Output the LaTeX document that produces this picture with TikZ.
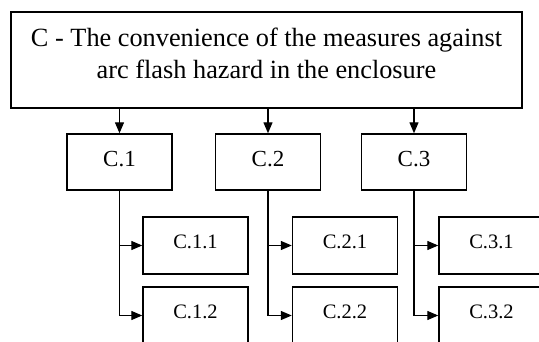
\documentclass[tikz,border=0pt]{standalone}
\usepackage{fontspec}
\setmainfont{Liberation Serif}
\usetikzlibrary{arrows.meta}
\begin{document}
\begin{tikzpicture}[x=1pt,y=-1pt,
  box/.style={draw, line width=1.4pt, inner sep=0pt},
  headbox/.style={box, minimum width=511pt, minimum height=96pt, align=center,
    font=\fontsize{26.3}{31.6}\selectfont, text depth=13pt},
  midbox/.style={box, minimum width=105pt, minimum height=56pt,
    font=\fontsize{23}{27}\selectfont, text height=16pt, text depth=6.4pt},
  subbox/.style={box, minimum width=105pt, minimum height=57pt,
    font=\fontsize{20.5}{24}\selectfont, text height=14pt, text depth=8.8pt},
  conn/.style={line width=1.2pt, -{Triangle[length=11pt,width=9pt]}}
]
\useasboundingbox (0,0) rectangle (539,342);
\clip (0,0) rectangle (539,342);

% top-level box
\node[headbox] (head) at (266.5,60)
  {C - The convenience of the measures against\\arc flash hazard in the enclosure};

% second level
\node[midbox] (c1) at (119.5,162) {C.1};
\node[midbox] (c2) at (268,162) {C.2};
\node[midbox] (c3) at (414,162) {C.3};

% third level
\node[subbox] (c11) at (195.5,245.5) {C.1.1};
\node[subbox] (c12) at (195.5,315.5) {C.1.2};
\node[subbox] (c21) at (345,245.5) {C.2.1};
\node[subbox] (c22) at (345,315.5) {C.2.2};
\node[subbox] (c31) at (491.5,245.5) {C.3.1};
\node[subbox] (c32) at (491.5,315.5) {C.3.2};

% connectors
\foreach \n in {c1,c2,c3}
  \draw[conn] (head.south -| \n.north) -- (\n.north);
\foreach \n in {1,2,3} {
  \draw[conn] (c\n.south) |- (c\n1.west);
  \draw[conn] (c\n.south) |- (c\n2.west);
}
\end{tikzpicture}
\end{document}
